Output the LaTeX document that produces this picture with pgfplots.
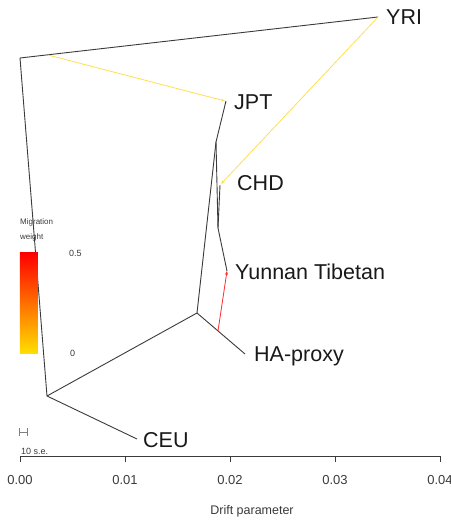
\documentclass[border=0pt]{standalone}
\usepackage{pgfplots}
\pgfplotsset{compat=1.18}
\usepackage{fontspec}
\setmainfont{Liberation Sans}
\usetikzlibrary{arrows.meta}

\definecolor{treecol}{HTML}{3A3A3A}
\definecolor{migY}{HTML}{FFE04A}
\definecolor{migR}{HTML}{FF2A2A}
\definecolor{cbtop}{HTML}{FF0000}
\definecolor{cbbot}{HTML}{FFE000}

\begin{document}
\begin{tikzpicture}
\begin{axis}[
  scale only axis, width=420pt, height=446pt,
  xmin=0, xmax=0.04, ymin=0, ymax=446,
  clip=false,
  axis x line*=bottom, axis y line=none,
  x axis line style={treecol, line width=0.9pt, -},
  xtick={0,0.01,0.02,0.03,0.04},
  xticklabels={0.00,0.01,0.02,0.03,0.04},
  scaled x ticks=false,
  tick align=outside, major tick length=6pt,
  xtick style={treecol, line width=0.9pt},
  xticklabel style={font=\fontsize{13}{15}\selectfont, text=treecol, anchor=base, yshift=-22pt, inner sep=0pt},
  tree/.style={treecol, line width=0.9pt, no markers},
  mig/.style={line width=0.8pt, no markers, -{Stealth[length=4pt,width=3pt]}},
]
% tree edges
\addplot[tree] coordinates {(0,398) (0.0341,439)};
\addplot[tree] coordinates {(0,398) (0.002571,60)};
\addplot[tree] coordinates {(0.002571,60) (0.011143,17)};
\addplot[tree] coordinates {(0.002571,60) (0.016857,143)};
\addplot[tree] coordinates {(0.016857,143) (0.021429,102)};
\addplot[tree] coordinates {(0.016857,143) (0.018667,314)};
\addplot[tree] coordinates {(0.018667,314) (0.019619,355)};
\addplot[tree] coordinates {(0.018667,314) (0.018857,228)};
\addplot[tree] coordinates {(0.018857,228) (0.019048,271)};
\addplot[tree] coordinates {(0.018857,228) (0.019714,185)};
% migration edges
\addplot[mig, migY] coordinates {(0.002667,401) (0.019524,355)};
\addplot[mig, migY] coordinates {(0.0341,439) (0.019143,272)};
\addplot[mig, migR] coordinates {(0.018857,125) (0.019714,185)};
% scale bar (10 s.e.)
\addplot[gray, line width=0.7pt, no markers] coordinates {(-0.000095,20) (-0.000095,28)};
\addplot[gray, line width=0.7pt, no markers] coordinates {(0.000667,20) (0.000667,28)};
\addplot[gray, line width=0.7pt, no markers] coordinates {(-0.000095,24) (0.000667,24)};
\node[anchor=base west, inner sep=0pt, font=\fontsize{9}{10}\selectfont, text=treecol] at (axis cs:0.0000952,1) {10 s.e.};
% colour bar
\fill[top color=cbtop, bottom color=cbbot] (axis cs:0,102) rectangle (axis cs:0.001714,203);
\node[anchor=base west, inner sep=0pt, font=\fontsize{8}{9}\selectfont, text=treecol] at (axis cs:0,231) {Migration};
\node[anchor=base west, inner sep=0pt, font=\fontsize{8}{9}\selectfont, text=treecol] at (axis cs:0,216) {weight};
\node[anchor=base west, inner sep=0pt, font=\fontsize{9}{10}\selectfont, text=treecol] at (axis cs:0.004667,199) {0.5};
\node[anchor=base west, inner sep=0pt, font=\fontsize{9}{10}\selectfont, text=treecol] at (axis cs:0.004762,99) {0};
% leaf labels
\node[anchor=base west, inner sep=0pt, font=\fontsize{21.5}{24}\selectfont, text=black!90] at (axis cs:0.034857,431) {YRI};
\node[anchor=base west, inner sep=0pt, font=\fontsize{21.5}{24}\selectfont, text=black!90] at (axis cs:0.020381,346) {JPT};
\node[anchor=base west, inner sep=0pt, font=\fontsize{21.5}{24}\selectfont, text=black!90] at (axis cs:0.020667,265) {CHD};
\node[anchor=base west, inner sep=0pt, font=\fontsize{21.5}{24}\selectfont, text=black!90] at (axis cs:0.020476,176) {Yunnan Tibetan};
\node[anchor=base west, inner sep=0pt, font=\fontsize{21.5}{24}\selectfont, text=black!90] at (axis cs:0.022286,94) {HA-proxy};
\node[anchor=base west, inner sep=0pt, font=\fontsize{21.5}{24}\selectfont, text=black!90] at (axis cs:0.011714,8) {CEU};
% axis title
\node[anchor=base, inner sep=0pt, font=\fontsize{12.5}{14}\selectfont, text=treecol] at (axis cs:0.022095,-58) {Drift parameter};
% page corners
\coordinate (bl) at (axis cs:-0.0019048,-65);
\coordinate (tr) at (axis cs:0.041048,456);
\end{axis}
\pgfresetboundingbox
\path (bl) rectangle (tr);
\end{tikzpicture}
\end{document}
